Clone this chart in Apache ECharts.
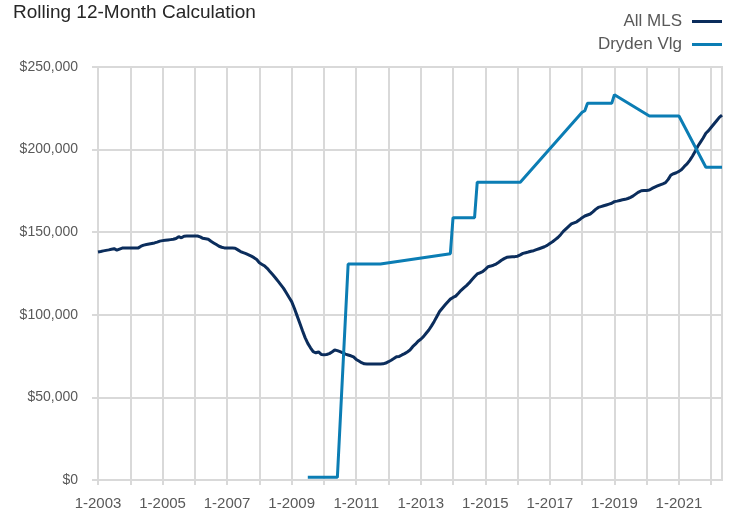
<!DOCTYPE html>
<html>
    <head>
        <meta charset="utf-8">
        <title>Rolling 12-Month Calculation</title>
        <style>
            html, body{
                margin: 0;
                padding: 0;
                background: #ffffff;
            }
            #chart{
                width: 732px;
                height: 515px;
            }
        </style>
    </head>
    <body>
        <div id="chart"></div>
        <script src="https://cdn.jsdelivr.net/npm/echarts@6/dist/echarts.min.js"></script>
        <script>
            // monthly categories 1-2003 .. 5-2022
            var months = [];
            for (var y = 2003; y <= 2022; y++) {
                for (var m = 1; m <= 12; m++) {
                    if (y == 2022 && m > 5) break;
                    months.push(m + '-' + y);
                }
            }

            // All MLS, rolling 12-month value in $ thousands, one row per year
            var allMls = [
                138.0, 138.3, 138.7, 139.0, 139.3, 139.7, 140.0, 139.2, 139.8, 140.4, 140.4, 140.4, // 2003
                140.4, 140.4, 140.4, 140.5, 141.5, 142.2, 142.6, 142.9, 143.2, 143.5, 144.0, 144.6, // 2004
                144.9, 145.1, 145.3, 145.5, 145.7, 146.2, 147.3, 146.6, 147.6, 147.7, 147.7, 147.7, // 2005
                147.7, 147.7, 147.2, 146.3, 146.0, 145.7, 144.5, 143.5, 142.5, 141.5, 140.9, 140.5, // 2006
                140.4, 140.4, 140.4, 140.3, 139.3, 138.3, 137.6, 137.0, 136.3, 135.5, 134.6, 133.5, // 2007
                131.5, 130.5, 129.5, 128.0, 126.0, 124.2, 122.3, 120.2, 118.1, 116.0, 113.3, 110.6, // 2008
                108.0, 104.0, 99.5, 95.0, 90.5, 86.2, 82.7, 80.0, 77.7, 77.0, 77.5, 76.0,           // 2009
                75.8, 76.0, 76.5, 77.5, 78.7, 78.3, 77.7, 77.0, 76.2, 75.7, 75.2, 74.5,             // 2010
                73.0, 72.0, 71.0, 70.3, 70.2, 70.2, 70.2, 70.2, 70.2, 70.2, 70.3, 70.8,             // 2011
                71.6, 72.5, 73.5, 74.6, 74.8, 75.7, 76.5, 77.5, 78.7, 80.7, 82.2, 84.0,             // 2012
                85.2, 86.8, 88.8, 90.8, 93.3, 96.0, 99.0, 102.0, 104.0, 105.9, 107.8, 109.5,        // 2013
                110.5, 111.3, 113.0, 114.8, 116.3, 117.7, 119.3, 121.2, 123.0, 124.7, 125.4, 126.1, // 2014
                127.5, 129.1, 129.5, 130.0, 130.7, 131.8, 133.0, 134.0, 134.8, 135.0, 135.1, 135.2, // 2015
                135.5, 136.3, 137.2, 137.6, 138.0, 138.5, 138.8, 139.4, 140.0, 140.6, 141.2, 142.0, // 2016
                143.2, 144.2, 145.5, 146.8, 148.5, 150.5, 152.0, 153.5, 155.0, 155.7, 156.3, 157.5, // 2017
                158.8, 159.8, 160.4, 161.0, 162.3, 163.8, 165.0, 165.5, 166.0, 166.5, 167.0, 167.5, // 2018
                168.5, 168.8, 169.2, 169.6, 169.9, 170.4, 171.1, 172.0, 173.2, 174.3, 175.1, 175.2, // 2019
                175.3, 175.5, 176.5, 177.3, 178.0, 178.7, 179.3, 180.0, 182.0, 184.6, 185.4, 186.0, // 2020
                186.8, 188.0, 189.8, 191.3, 193.5, 196.0, 198.8, 202.0, 204.5, 207.0, 209.9, 211.5, // 2021
                213.5, 215.5, 217.5, 219.5, 220.9                                                   // 2022
            ];

            // Dryden Vlg, only the months where the line changes direction
            var dryMonths = ['7-2009', '6-2010', '10-2010', '10-2011', '12-2013', '1-2014', '9-2014',
                '10-2014', '2-2016', '1-2018', '2-2018', '3-2018', '12-2018', '1-2019', '2-2020',
                '1-2021', '11-2021', '5-2022'];
            var dryValues = [1600, 1600, 130700, 130700, 137000, 158800, 158800,
                180300, 180300, 222600, 223500, 228000, 228000, 233200, 220300,
                220300, 189300, 189300];

            var yTicks = [0, 50000, 100000, 150000, 200000, 250000];

            var grey = '#d9d9d9';
            var txt = '#595959';
            var font = "'Liberation Sans', Arial, sans-serif";

            var chart = echarts.init(document.getElementById('chart'));
            var option = {
                animation: false,
                title: {
                    text: 'Rolling 12-Month Calculation',
                    left: 8,
                    top: -2,
                    textStyle: {color: '#262626', fontSize: 19, fontWeight: 'normal', fontFamily: font}
                },
                legend: {
                    orient: 'vertical',
                    right: 5,
                    top: 8,
                    align: 'right',
                    icon: 'rect',
                    itemWidth: 30,
                    itemHeight: 3,
                    itemGap: 6,
                    textStyle: {color: txt, fontSize: 17, fontFamily: font, lineHeight: 17, padding: [0, 5, 0, 0]},
                    data: ['All MLS', 'Dryden Vlg']
                },
                grid: {left: 98, right: 10, top: 67, bottom: 35, show: true, borderColor: grey, borderWidth: 2},
                xAxis: {
                    type: 'category',
                    data: months,
                    boundaryGap: false,
                    axisLine: {lineStyle: {color: grey, width: 2}},
                    axisTick: {
                        interval: function (i) { return i % 12 == 0; },
                        length: 5,
                        lineStyle: {color: grey, width: 2}
                    },
                    axisLabel: {
                        interval: function (i) { return i % 24 == 0; },
                        color: txt,
                        fontSize: 15,
                        fontFamily: font,
                        margin: 16
                    },
                    splitLine: {
                        show: true,
                        interval: function (i) { return i % 12 == 0; },
                        lineStyle: {color: grey, width: 2}
                    }
                },
                yAxis: {
                    type: 'value',
                    min: yTicks[0],
                    max: yTicks[yTicks.length - 1],
                    interval: 50000,
                    axisLine: {show: false},
                    axisTick: {show: true, length: 6, lineStyle: {color: grey, width: 2}},
                    axisLabel: {
                        color: txt,
                        fontSize: 14,
                        fontFamily: font,
                        margin: 20,
                        formatter: function (v) { return '$' + v.toLocaleString('en-US'); }
                    },
                    splitLine: {lineStyle: {color: grey, width: 2}}
                },
                series: [
                    {
                        name: 'All MLS',
                        type: 'line',
                        data: allMls.map(function (v) { return Math.round(v * 1000); }),
                        showSymbol: false,
                        symbol: 'none',
                        color: '#0b2d5c',
                        lineStyle: {width: 3}
                    },
                    {
                        name: 'Dryden Vlg',
                        type: 'line',
                        data: dryMonths.map(function (d, i) { return [d, dryValues[i]]; }),
                        showSymbol: false,
                        symbol: 'none',
                        color: '#0b7db4',
                        lineStyle: {width: 3}
                    }
                ]
            };
            chart.setOption(option);
        </script>
    </body>
</html>
